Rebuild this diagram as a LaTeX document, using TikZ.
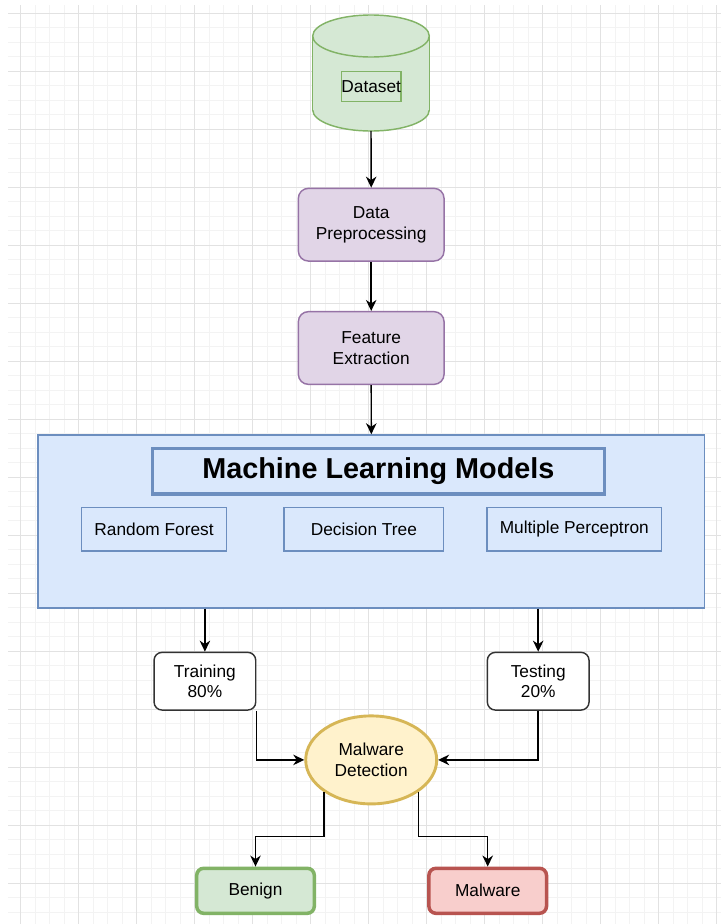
\documentclass[tikz,border=0pt]{standalone}
\usepackage{fontspec}
\setmainfont{Liberation Sans}
\usetikzlibrary{arrows.meta,shapes.geometric,calc}
\definecolor{gridmajor}{HTML}{E2E2E2}
\definecolor{gridminor}{HTML}{F3F3F3}
\definecolor{greenfill}{HTML}{D5E8D4}
\definecolor{greenline}{HTML}{82B366}
\definecolor{purplefill}{HTML}{E1D5E7}
\definecolor{purpleline}{HTML}{9673A6}
\definecolor{bluefill}{HTML}{DAE8FC}
\definecolor{blueline}{HTML}{6C8EBF}
\definecolor{yellowfill}{HTML}{FFF2CC}
\definecolor{yellowline}{HTML}{D6B656}
\definecolor{redfill}{HTML}{F8CECC}
\definecolor{redline}{HTML}{B85450}
\definecolor{darkline}{HTML}{333333}
\begin{document}
\begin{tikzpicture}[x=1pt,y=-1pt,
  every node/.style={font=\fontsize{17.3}{20.7}\selectfont, inner sep=0pt, align=center, text=black},
  purplebox/.style={draw=purpleline, fill=purplefill, line width=1.44pt, rounded corners=10pt, minimum width=145.7pt, minimum height=72.7pt},
  modelbox/.style={draw=blueline, fill=bluefill, line width=1.44pt, minimum height=43.7pt},
  splitbox/.style={draw=darkline, fill=white, line width=1.44pt, rounded corners=8pt, minimum width=101.7pt, minimum height=57.7pt},
  resultbox/.style={line width=3.5pt, rounded corners=7pt, minimum width=117.6pt, minimum height=45pt},
  conn/.style={draw=black, line width=1.44pt, -{Stealth[length=11pt,width=10.5pt,inset=3.5pt]}}
]
\useasboundingbox (0,0) rectangle (721,924);
\fill[white] (0,0) rectangle (721,924);
% grid
\foreach \i in {0,...,48} {
  \draw[gridminor, line width=1pt] ({20.7+14.5*\i},5) -- ({20.7+14.5*\i},924);
}
\foreach \j in {0,...,62} {
  \draw[gridminor, line width=1pt] (8,{13.3+14.5*\j}) -- (721,{13.3+14.5*\j});
}
\foreach \i in {0,...,12} {
  \draw[gridmajor, line width=1pt] ({20.7+58*\i},5) -- ({20.7+58*\i},924);
}
\foreach \j in {0,...,15} {
  \draw[gridmajor, line width=1pt] (8,{13.3+58*\j}) -- (721,{13.3+58*\j});
}
% cylinder
\fill[greenfill] (312.7,36) rectangle (429.3,110);
\fill[greenfill] (371,110) ellipse[x radius=58.3, y radius=21];
\begin{scope}
  \clip (300,110) rectangle (440,140);
  \draw[greenline, line width=1.44pt] (371,110) ellipse[x radius=58.3, y radius=21];
\end{scope}
\draw[greenline, line width=1.44pt] (312.7,36) -- (312.7,110) (429.3,36) -- (429.3,110);
\filldraw[fill=greenfill, draw=greenline, line width=1.44pt] (371,36) ellipse[x radius=58.3, y radius=21];
\node[minimum width=116.6pt, minimum height=115.7pt] (cyl) at (371,72.85) {};
\node[draw=greenline, line width=1.2pt, minimum width=59pt, minimum height=30pt] (dslabel) at (371.2,86.7) {Dataset};
% pipeline
\node[purplebox] (dp) at (371.2,224.7) {\raisebox{-1.5pt}{\parbox{140pt}{\centering Data\\Preprocessing}}};
\node[purplebox] (fe) at (371.2,348) {Feature\\Extraction};
\node[draw=blueline, fill=bluefill, line width=1.44pt, minimum width=666.8pt, minimum height=173pt] (ml) at (371.3,521.5) {};
\node[draw=blueline, fill=bluefill, line width=3.2pt, minimum width=452pt, minimum height=45.7pt, font=\fontsize{28.8}{34}\selectfont\bfseries] (title) at (378.4,471.2) {Machine Learning Models};
\node[modelbox, minimum width=145.2pt] (rf) at (154.1,529.2) {Random Forest};
\node[modelbox, minimum width=159.7pt] (dt) at (363.9,529.2) {Decision Tree};
\node[modelbox, minimum width=174.7pt] (mp) at (574.3,529.2) {Multiple Perceptron};
\node[splitbox] (train) at (204.9,681.2) {Training\\80\%};
\node[splitbox] (test) at (538.2,681.2) {Testing\\20\%};
\node[ellipse, draw=yellowline, fill=yellowfill, line width=2.9pt, minimum width=131pt, minimum height=88pt] (md) at (371.2,759.9) {Malware\\Detection};
\node[resultbox, draw=greenline, fill=greenfill] (benign) at (255.5,890.8) {Benign};
\node[resultbox, draw=redline, fill=redfill] (mal) at (487.7,890.8) {Malware};
\coordinate (bmid) at (0,836.7);
% connectors
\draw[conn] (cyl.south) -- (dp.north);
\draw[conn] (dp.south) -- (fe.north);
\draw[conn] (fe.south) -- (ml.north);
\draw[conn] (train.north |- ml.south) -- (train.north);
\draw[conn] (test.north |- ml.south) -- (test.north);
\draw[conn] (train.south east) |- (md.west);
\draw[conn] (test.south) |- (md.east);
\draw[conn] (md.south west) -- (md.south west |- bmid) -| (benign.north);
\draw[conn] (md.south east) -- (md.south east |- bmid) -| (mal.north);
\end{tikzpicture}
\end{document}
